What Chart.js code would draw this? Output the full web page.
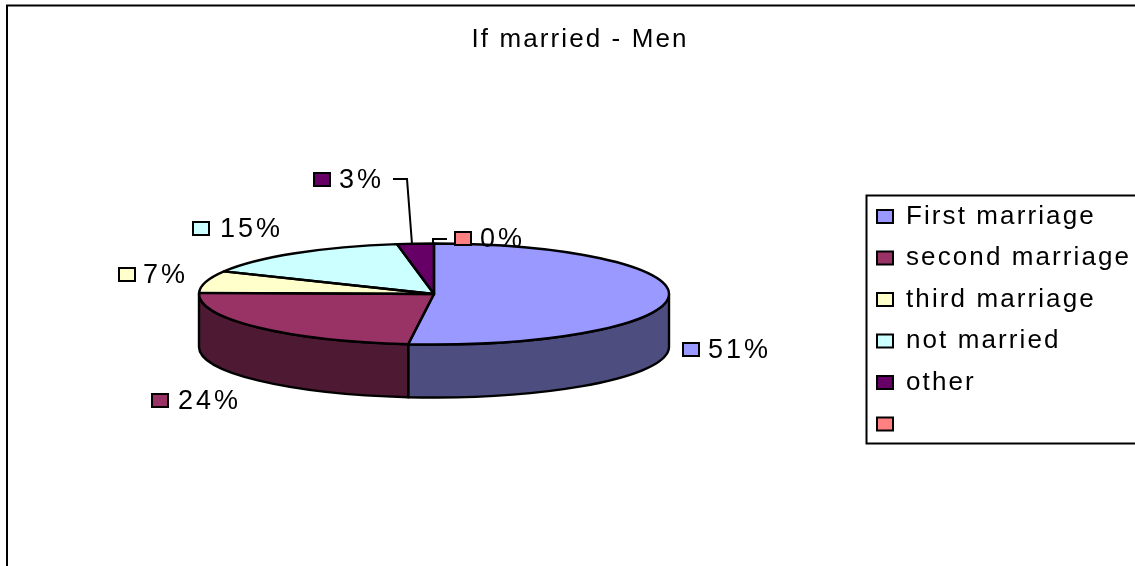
<!DOCTYPE html>
<html>
<head>
<meta charset="utf-8">
<style>
html,body{margin:0;padding:0;background:#fff;overflow:hidden;width:1135px;height:566px}
canvas{display:block;position:absolute;left:0;top:0}
</style>
<script src="https://cdn.jsdelivr.net/npm/chart.js@4"></script>
</head>
<body>
<canvas id="c" width="1160" height="640"></canvas>
<script>
const chartTitle = 'If married - Men';
const categories = ['First marriage', 'second marriage', 'third marriage', 'not married', 'other', ''];
const shares = [51.49, 23.5, 7, 15, 2.51, 0];
const topColors = ['#9999FF', '#993366', '#FFFFCC', '#CCFFFF', '#660066', '#FF8080'];
const wallColors = ['#4D4D80', '#4D1933', '#80806A', '#6A8080', '#330033', '#804040'];

const FONT = '"Liberation Sans", Arial, sans-serif';
const CX = 434, CY = 294, RX = 235, RY = 50.5, DEPTH = 53;
// Callout placement for each slice: swatch left/top, text left
const calloutBoxes = [[683,343,708],[152,394,178],[119,268,143],[193,222,220],[314,173,339],[455,232,480]];

const pie3d = {
  id: 'pie3d',
  beforeUpdate(chart){ chart.ctx.letterSpacing = '2.1px'; },
  beforeDraw(chart){ chart.ctx.letterSpacing = '2.1px'; },
  beforeDatasetsDraw(chart){
    const ctx = chart.ctx, arcs = chart.getDatasetMeta(0).data;
    ctx.save();
    ctx.lineWidth = 2.4; ctx.strokeStyle = '#000'; ctx.lineJoin = 'round';
    arcs.forEach((a, i) => {
      const s = Math.max(a.startAngle, 0), e = Math.min(a.endAngle, Math.PI);
      if (e <= s) return;
      ctx.beginPath();
      ctx.ellipse(CX, CY, RX, RY, 0, s, e);
      ctx.ellipse(CX, CY + DEPTH, RX, RY, 0, e, s, true);
      ctx.closePath();
      ctx.fillStyle = wallColors[i];
      ctx.fill(); ctx.stroke();
    });
    ctx.restore();
    const a0 = arcs[0];
    ctx.save();
    ctx.translate(CX, CY);
    ctx.scale(RX / a0.outerRadius, RY / a0.outerRadius);
    ctx.translate(-a0.x, -a0.y);
  },
  afterDatasetsDraw(chart){
    const ctx = chart.ctx, arcs = chart.getDatasetMeta(0).data;
    ctx.restore();
    ctx.save();
    ctx.lineWidth = 2.4; ctx.strokeStyle = '#000'; ctx.lineJoin = 'round';
    arcs.forEach(a => {
      if (a.endAngle - a.startAngle <= 0) return;
      ctx.beginPath();
      ctx.moveTo(CX, CY);
      ctx.ellipse(CX, CY, RX, RY, 0, a.startAngle, a.endAngle);
      ctx.closePath();
      ctx.stroke();
    });
    ctx.restore();
  },
  afterDraw(chart){
    const ctx = chart.ctx;
    ctx.save();
    // outer frame
    ctx.lineWidth = 2; ctx.strokeStyle = '#000';
    ctx.strokeRect(7, 5.5, 1300, 800);
    // legend frame
    ctx.strokeRect(866.5, 195.5, 400, 248);
    // leader lines
    ctx.beginPath();
    ctx.moveTo(393, 179); ctx.lineTo(407, 179); ctx.lineTo(412, 244);
    ctx.moveTo(447, 239); ctx.lineTo(433, 239); ctx.lineTo(433, 244);
    ctx.lineWidth = 2; ctx.stroke();
    // callouts
    ctx.font = '27px ' + FONT;
    ctx.letterSpacing = '3px';
    ctx.textBaseline = 'middle'; ctx.textAlign = 'left';
    shares.forEach((v, i) => {
      const [bx, by, tx] = calloutBoxes[i];
      ctx.fillStyle = topColors[i];
      ctx.fillRect(bx, by, 16, 13);
      ctx.lineWidth = 2; ctx.strokeStyle = '#000';
      ctx.strokeRect(bx, by, 16, 13);
      ctx.fillStyle = '#000';
      ctx.fillText(Math.round(v) + '%', tx, by + 8);
    });
    ctx.restore();
  },
  afterLayout(chart){
    const l = chart.legend;
    const w = l.width, h = l.height;
    l.left = 861.5; l.right = 861.5 + w;
    l.top = 188; l.bottom = 188 + h;
  }
};

new Chart(document.getElementById('c'), {
  type: 'pie',
  data: {
    labels: categories,
    datasets: [{ data: shares, backgroundColor: topColors, borderWidth: 0, clip: false }]
  },
  plugins: [pie3d],
  options: {
    responsive: false,
    animation: false,
    radius: 234,
    plugins: {
      tooltip: { enabled: false },
      title: {
        display: true, text: chartTitle, color: '#000',
        font: { family: FONT, size: 26, weight: 'normal' },
        padding: { top: 24, bottom: 10 }
      },
      legend: {
        position: 'right', align: 'start',
        labels: {
          color: '#000', boxWidth: 16, boxHeight: 13, padding: 15.5,
          font: { family: FONT, size: 26 },
          generateLabels: c => categories.map((t, i) => ({
            text: t, fillStyle: topColors[i], strokeStyle: '#000', lineWidth: 2, index: i, hidden: false
          }))
        }
      }
    }
  }
});
</script>
</body>
</html>
